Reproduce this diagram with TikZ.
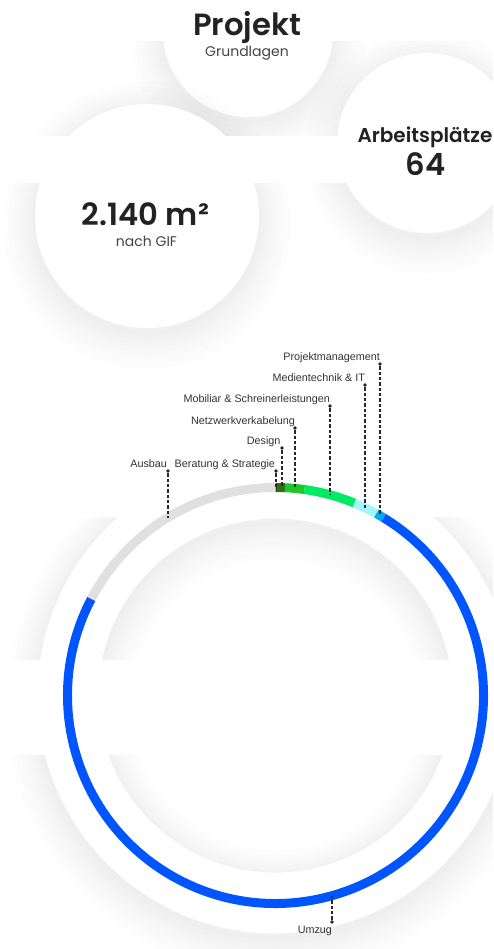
\documentclass[tikz,border=0pt]{standalone}
\usepackage{fontspec}
\setmainfont{Poppins}
\newfontfamily\headfont{Poppins SemiBold}
\newfontfamily\lblfont{Liberation Sans}

\tikzset{every picture/.style={line width=0.75pt}}
\tikzset{
  shadowed/.style={
    preaction={draw=black,draw opacity=0.009,line width=48pt,transform canvas={yshift=-7pt}},
    preaction={draw=black,draw opacity=0.009,line width=40pt,transform canvas={yshift=-7pt}},
    preaction={draw=black,draw opacity=0.009,line width=33pt,transform canvas={yshift=-6pt}},
    preaction={draw=black,draw opacity=0.009,line width=26pt,transform canvas={yshift=-6pt}},
    preaction={draw=black,draw opacity=0.009,line width=20pt,transform canvas={yshift=-5pt}},
    preaction={draw=black,draw opacity=0.009,line width=14pt,transform canvas={yshift=-5pt}},
    preaction={draw=black,draw opacity=0.009,line width=9pt,transform canvas={yshift=-4pt}},
    preaction={draw=black,draw opacity=0.009,line width=4pt,transform canvas={yshift=-3pt}}},
  seg/.style={line width=6.75pt},
  leader/.style={draw={rgb, 255:red, 40; green, 40; blue, 40 }, line width=1pt, dash pattern=on 2.5pt off 1.5pt},
  tipdot/.style={circle, fill={rgb, 255:red, 34; green, 34; blue, 34 }, inner sep=0pt, minimum size=2.8pt},
  lbl/.style={font=\lblfont\fontsize{8.1}{9}\selectfont, text={rgb, 255:red, 51; green, 51; blue, 51 }, inner sep=0pt, anchor=base east},
  bigtxt/.style={font=\headfont\fontsize{23}{23}\selectfont, text={rgb, 255:red, 34; green, 34; blue, 34 }, inner sep=0pt, anchor=base},
  midtxt/.style={font=\headfont\fontsize{15}{15}\selectfont, text={rgb, 255:red, 34; green, 34; blue, 34 }, inner sep=0pt, anchor=base},
  subtxt/.style={font=\fontsize{10.5}{11}\selectfont, text={rgb, 255:red, 68; green, 68; blue, 68 }, inner sep=0pt, anchor=base}
}

\begin{document}
\begin{tikzpicture}[x=0.75pt,y=0.75pt,yscale=-1,xscale=1]
\useasboundingbox (0,0) rectangle (493,949);
\fill[white] (0,0) rectangle (493,949);
\coordinate (ring) at (275.5,695.5);

%Shadowed cards, shadows only in the bands
\begin{scope}
\clip (0,41) rectangle (493,136) (0,183) rectangle (493,420) (0,517) rectangle (493,660) (0,755) rectangle (493,949);
\fill[white, shadowed] (248,32) circle (85);
\fill[white, shadowed] (427,143) circle (90);
\fill[white, shadowed] (147,216) circle (112);
\fill[white, shadowed] (ring) circle (238);
%inner inset shadow
\begin{scope}
\clip (ring) circle (177);
\path[shadowed] (ring) circle (177);
\end{scope}
\end{scope}

% Text Node
\node[bigtxt] (projekt) at (247,36) {Projekt};
\node[subtxt] (grundlagen) at (247,57) {Grundlagen};
\node[midtxt] (arbeit) at (425,142) {Arbeitsplätze};
\node[bigtxt] (plaetze) at (425.5,175) {64};
\node[bigtxt] (flaeche) at (145.5,225) {2.140 m²};
\node[subtxt] (gif) at (146.5,246) {nach GIF};

%Ring segments
\draw[seg, color={rgb, 255:red, 30; green, 60; blue, 10 }] ([shift={(-90:208)}]ring) arc (-90:-89.6:208);
\draw[seg, color={rgb, 255:red, 50; green, 110; blue, 20 }] ([shift={(-89.6:208)}]ring) arc (-89.6:-87.4:208);
\draw[seg, color={rgb, 255:red, 30; green, 200; blue, 40 }] ([shift={(-87.4:208)}]ring) arc (-87.4:-82:208);
\draw[seg, color={rgb, 255:red, 0; green, 235; blue, 100 }] ([shift={(-82:208)}]ring) arc (-82:-67.7:208);
\draw[seg, color={rgb, 255:red, 165; green, 245; blue, 255 }] ([shift={(-67.7:208)}]ring) arc (-67.7:-61:208);
\draw[seg, color={rgb, 255:red, 0; green, 170; blue, 240 }] ([shift={(-61:208)}]ring) arc (-61:-58.7:208);
\draw[seg, color={rgb, 255:red, 0; green, 85; blue, 255 }] ([shift={(-58.7:208)}]ring) arc (-58.7:207.7:208);
\draw[seg, color={rgb, 255:red, 224; green, 224; blue, 224 }] ([shift={(207.7:208)}]ring) arc (207.7:270:208);

%Labels and leaders
\node[lbl] (pm) at (380.5,360) {Projektmanagement};
\node[tipdot] (pm-dot) at (380,364) {};
\coordinate (pm-end) at (380,515.6);
\draw[leader] (pm-dot) -- (pm-end);

\node[lbl] (medien) at (365.5,381) {Medientechnik \& IT};
\node[tipdot] (medien-dot) at (365,385) {};
\coordinate (medien-end) at (365,508);
\draw[leader] (medien-dot) -- (medien-end);

\node[lbl] (mobiliar) at (330.5,402) {Mobiliar \& Schreinerleistungen};
\node[tipdot] (mobiliar-dot) at (330,406) {};
\coordinate (mobiliar-end) at (330,494.6);
\draw[leader] (mobiliar-dot) -- (mobiliar-end);

\node[lbl] (netz) at (295.5,424) {Netzwerkverkabelung};
\node[tipdot] (netz-dot) at (295,428) {};
\coordinate (netz-end) at (295,488.4);
\draw[leader] (netz-dot) -- (netz-end);

\node[lbl] (design) at (281,444) {Design};
\node[tipdot] (design-dot) at (282,448) {};
\coordinate (design-end) at (282,487.6);
\draw[leader] (design-dot) -- (design-end);

\node[lbl] (beratung) at (275.5,467) {Beratung \& Strategie};
\node[tipdot] (beratung-dot) at (276,471) {};
\coordinate (beratung-end) at (276,487.5);
\draw[leader] (beratung-dot) -- (beratung-end);

\node[lbl] (ausbau) at (167.5,467) {Ausbau};
\node[tipdot] (ausbau-dot) at (168,471) {};
\coordinate (ausbau-end) at (168,517.5);
\draw[leader] (ausbau-dot) -- (ausbau-end);

\node[lbl] (umzug) at (332.5,933) {Umzug};
\node[tipdot] (umzug-dot) at (332,922) {};
\coordinate (umzug-end) at (332,895.8);
\draw[leader] (umzug-dot) -- (umzug-end);

\end{tikzpicture}
\end{document}
